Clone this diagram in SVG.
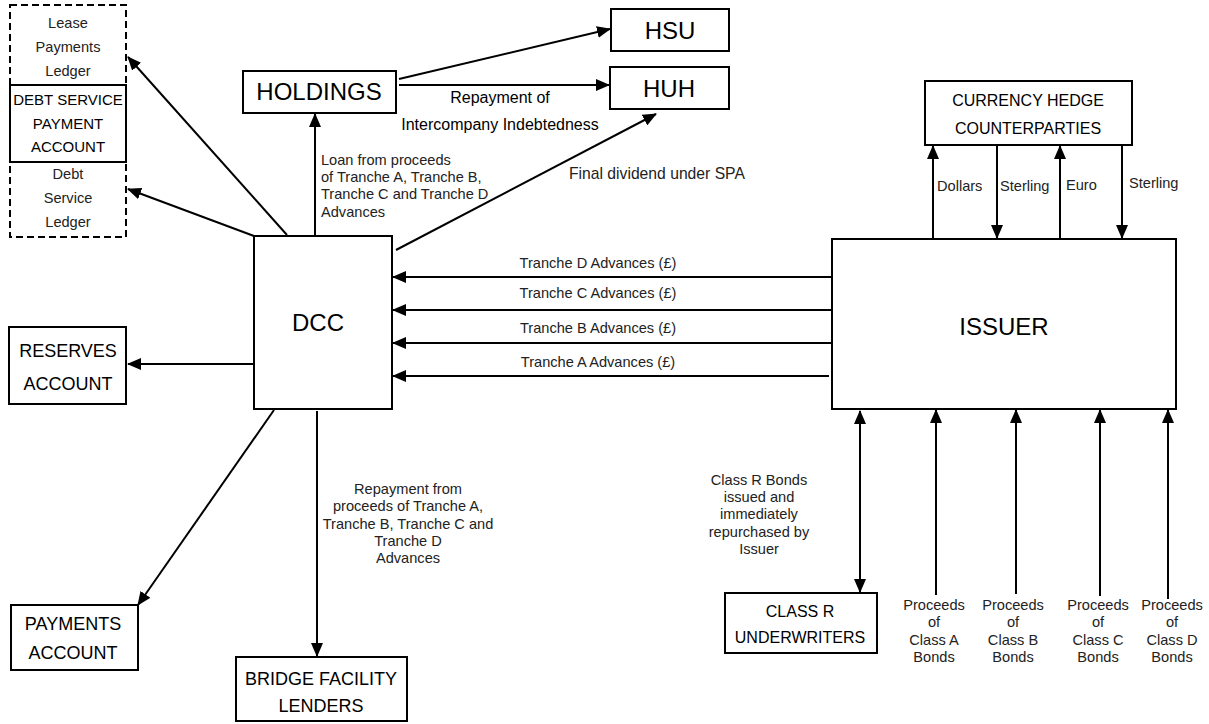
<svg xmlns="http://www.w3.org/2000/svg" width="1209" height="724" viewBox="0 0 1209 724">
<style>
text{font-family:"Liberation Sans",Arial,sans-serif;fill:#000}
.box{fill:#fff;stroke:#000;stroke-width:2}
.dash{fill:#fff;stroke:#000;stroke-width:2;stroke-dasharray:7,4}
.c{stroke:#000;stroke-width:2;fill:none}
.a{marker-end:url(#ah)}
.lbl{font-size:14.6px;fill:#222}
.mid{text-anchor:middle}
.n24{font-size:24px;text-anchor:middle}
.n18{font-size:18px;text-anchor:middle}
.n16{font-size:16px;text-anchor:middle}
</style>
<defs>
<marker id="ah" markerWidth="14" markerHeight="12" refX="13" refY="6" orient="auto" markerUnits="userSpaceOnUse"><path d="M0,0 L14,6 L0,12 z" fill="#000"/></marker>
<marker id="ahs" markerWidth="14" markerHeight="12" refX="13" refY="6" orient="auto-start-reverse" markerUnits="userSpaceOnUse"><path d="M0,0 L14,6 L0,12 z" fill="#000"/></marker>
</defs>
<rect width="1209" height="724" fill="#fff"/>

<g id="connectors">
<line class="c a" x1="287" y1="235" x2="128" y2="57"/>
<line class="c a" x1="254" y1="236" x2="128" y2="189"/>
<line class="c a" x1="315" y1="236" x2="315" y2="114"/>
<line class="c a" x1="399" y1="79" x2="610" y2="29"/>
<line class="c a" x1="399" y1="85" x2="609" y2="85"/>
<line class="c a" x1="396" y1="250" x2="656" y2="114"/>
<line class="c a" x1="835" y1="277" x2="393" y2="277"/>
<line class="c a" x1="832" y1="310" x2="393" y2="310"/>
<line class="c a" x1="832" y1="343" x2="393" y2="343"/>
<line class="c a" x1="829" y1="376" x2="393" y2="376"/>
<line class="c a" x1="254" y1="364" x2="128" y2="364"/>
<line class="c a" x1="274" y1="410" x2="138" y2="605"/>
<line class="c a" x1="317" y1="411" x2="317" y2="656"/>
<line class="c a" x1="933" y1="239" x2="933" y2="146"/>
<line class="c a" x1="997" y1="145" x2="997" y2="238"/>
<line class="c a" x1="1060" y1="239" x2="1060" y2="146"/>
<line class="c a" x1="1122" y1="145" x2="1122" y2="238"/>
<line class="c" x1="860" y1="411" x2="860" y2="592" marker-start="url(#ahs)" marker-end="url(#ahs)"/>
<line class="c a" x1="936" y1="595" x2="936" y2="410"/>
<line class="c a" x1="1016" y1="594" x2="1016" y2="410"/>
<line class="c a" x1="1100" y1="596" x2="1100" y2="410"/>
<line class="c a" x1="1168" y1="599" x2="1168" y2="410"/>

<text class="lbl" x="321" y="165">Loan from proceeds</text>
<text class="lbl" x="321" y="182">of Tranche A, Tranche B,</text>
<text class="lbl" x="321" y="199">Tranche C and Tranche D</text>
<text class="lbl" x="321" y="217">Advances</text>
<text class="mid" font-size="16" x="500" y="103">Repayment of</text>
<text class="mid" font-size="16" x="500" y="130">Intercompany Indebtedness</text>
<text class="lbl" style="font-size:15.7px" x="569" y="179">Final dividend under SPA</text>
<text class="lbl mid" x="598" y="268">Tranche D Advances (£)</text>
<text class="lbl mid" x="598" y="298">Tranche C Advances (£)</text>
<text class="lbl mid" x="598" y="333">Tranche B Advances (£)</text>
<text class="lbl mid" x="598" y="367">Tranche A Advances (£)</text>
<text class="lbl" x="937" y="191">Dollars</text>
<text class="lbl" x="1000" y="191">Sterling</text>
<text class="lbl" x="1066" y="190">Euro</text>
<text class="lbl" x="1129" y="188">Sterling</text>
<text class="lbl mid" x="408" y="494">Repayment from</text>
<text class="lbl mid" x="408" y="511">proceeds of Tranche A,</text>
<text class="lbl mid" x="408" y="529">Tranche B, Tranche C and</text>
<text class="lbl mid" x="408" y="546">Tranche D</text>
<text class="lbl mid" x="408" y="563">Advances</text>
<text class="lbl mid" x="759" y="485">Class R Bonds</text>
<text class="lbl mid" x="759" y="502">issued and</text>
<text class="lbl mid" x="759" y="519">immediately</text>
<text class="lbl mid" x="759" y="537">repurchased by</text>
<text class="lbl mid" x="759" y="554">Issuer</text>
<text class="lbl mid" x="934" y="610">Proceeds</text>
<text class="lbl mid" x="934" y="627">of</text>
<text class="lbl mid" x="934" y="645">Class A</text>
<text class="lbl mid" x="934" y="662">Bonds</text>
<text class="lbl mid" x="1013" y="610">Proceeds</text>
<text class="lbl mid" x="1013" y="627">of</text>
<text class="lbl mid" x="1013" y="645">Class B</text>
<text class="lbl mid" x="1013" y="662">Bonds</text>
<text class="lbl mid" x="1098" y="610">Proceeds</text>
<text class="lbl mid" x="1098" y="627">of</text>
<text class="lbl mid" x="1098" y="645">Class C</text>
<text class="lbl mid" x="1098" y="662">Bonds</text>
<text class="lbl mid" x="1172" y="610">Proceeds</text>
<text class="lbl mid" x="1172" y="627">of</text>
<text class="lbl mid" x="1172" y="645">Class D</text>
<text class="lbl mid" x="1172" y="662">Bonds</text>
</g>

<g id="ledgers">
<rect class="dash" x="10" y="5" width="116" height="232"/>
<text class="lbl mid" x="68" y="28">Lease</text>
<text class="lbl mid" x="68" y="52">Payments</text>
<text class="lbl mid" x="68" y="76">Ledger</text>
<text class="lbl mid" x="68" y="179">Debt</text>
<text class="lbl mid" x="68" y="203">Service</text>
<text class="lbl mid" x="68" y="227">Ledger</text>
</g>
<g id="dspa">
<rect class="box" x="10" y="85" width="116" height="77"/>
<text class="mid" font-size="15" x="68" y="105">DEBT SERVICE</text>
<text class="mid" font-size="15" x="68" y="129">PAYMENT</text>
<text class="mid" font-size="15" x="68" y="152">ACCOUNT</text>
</g>
<g id="holdings">
<rect class="box" x="243" y="71" width="153" height="42"/>
<text class="n24" x="319" y="100">HOLDINGS</text>
</g>
<g id="hsu">
<rect class="box" x="611" y="9" width="118" height="42"/>
<text class="n24" x="670" y="39">HSU</text>
</g>
<g id="huh">
<rect class="box" x="610" y="67" width="119" height="42"/>
<text class="n24" x="669" y="97">HUH</text>
</g>
<g id="currency">
<rect class="box" x="925" y="81" width="207" height="64"/>
<text class="n16" font-size="16.5" x="1028" y="106">CURRENCY HEDGE</text>
<text class="n16" font-size="16.5" x="1028" y="134">COUNTERPARTIES</text>
</g>
<g id="dcc">
<rect class="box" x="254" y="236" width="138" height="173"/>
<text class="n24" x="318" y="331">DCC</text>
</g>
<g id="issuer">
<rect class="box" x="832" y="239" width="344" height="170"/>
<text class="n24" x="1004" y="335">ISSUER</text>
</g>
<g id="reserves">
<rect class="box" x="9" y="327" width="117" height="77"/>
<text class="n18" x="68" y="357">RESERVES</text>
<text class="n18" x="68" y="390">ACCOUNT</text>
</g>
<g id="payments">
<rect class="box" x="11" y="605" width="127" height="65"/>
<text class="n18" x="73" y="630">PAYMENTS</text>
<text class="n18" x="73" y="659">ACCOUNT</text>
</g>
<g id="bridge">
<rect class="box" x="236" y="657" width="171" height="64"/>
<text class="n18" x="321" y="685">BRIDGE FACILITY</text>
<text class="n18" x="321" y="712">LENDERS</text>
</g>
<g id="classr">
<rect class="box" x="725" y="593" width="152" height="60"/>
<text class="n16" x="800" y="617">CLASS R</text>
<text class="n16" x="800" y="643">UNDERWRITERS</text>
</g>
</svg>
